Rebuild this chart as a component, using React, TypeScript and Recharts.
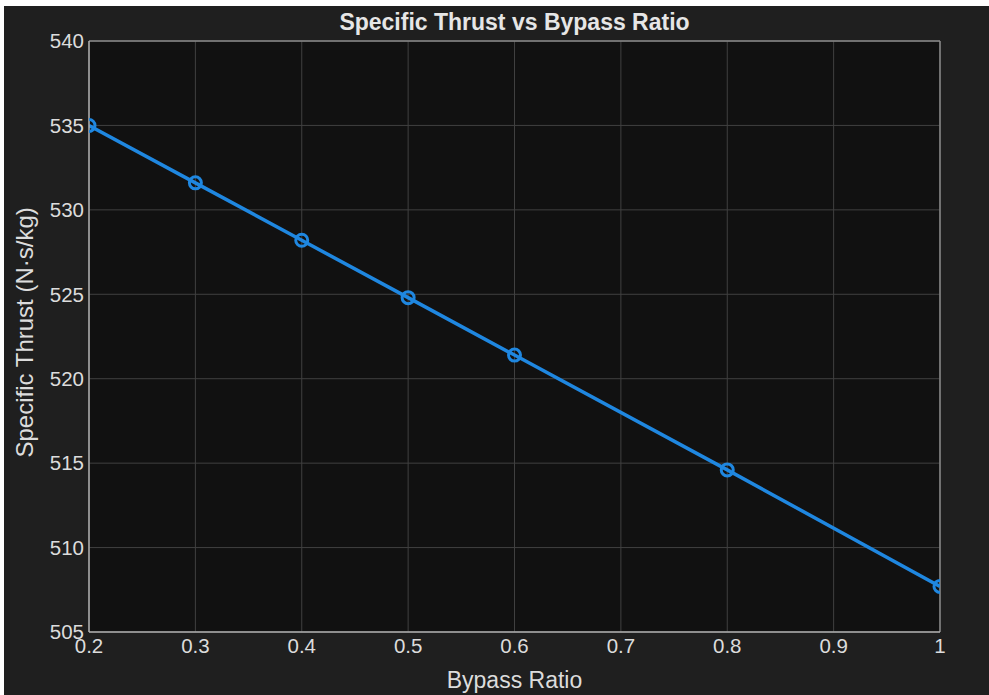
import React from 'react';
import { LineChart, Line, XAxis, YAxis, CartesianGrid, ReferenceLine } from 'recharts';

const bypassRatio = [0.2, 0.3, 0.4, 0.5, 0.6, 0.8, 1.0];
const specificThrust = [535.0, 531.6, 528.2, 524.8, 521.4, 514.6, 507.7];
const xTicks = [0.2, 0.3, 0.4, 0.5, 0.6, 0.7, 0.8, 0.9, 1];
const yTicks = [505, 510, 515, 520, 525, 530, 535, 540];

const data = bypassRatio.map((x, i) => ({ x, y: specificThrust[i] }));

const font = '"Liberation Sans", Arial, Helvetica, sans-serif';
const tickStyle = { fill: '#dcdcdc', fontSize: 20.5, fontFamily: font };

const App = () => {
    return (
        <div style={{ position: 'fixed', left: 0, top: 0, width: 989, height: 695, background: 'white' }}>
            <div style={{ position: 'absolute', left: 4, top: 6, width: 985, height: 689, background: '#1f1f1f' }}>
                <div
                    style={{
                        position: 'absolute', left: (85 + 936) / 2, top: 3, transform: 'translateX(-50%)', whiteSpace: 'nowrap',
                        color: '#e6e6e6', fontFamily: font, fontWeight: 'bold', fontSize: 23,
                    }}
                >
                    Specific Thrust vs Bypass Ratio
                </div>
                <LineChart
                    width={985}
                    height={689}
                    data={data}
                    margin={{ top: 35, right: 49, bottom: 33, left: 25 }}
                >
                    <CartesianGrid stroke="#404040" strokeWidth={1} fill="#111111" />
                    <XAxis
                        dataKey="x"
                        type="number"
                        domain={[0.2, 1]}
                        ticks={xTicks}
                        tickFormatter={(v) => String(Math.round(v * 10) / 10)}
                        height={30}
                        tickLine={false}
                        tickSize={5}
                        axisLine={{ stroke: '#b0b0b0', strokeWidth: 1.5 }}
                        tick={tickStyle}
                        tickMargin={1}
                        allowDataOverflow
                        label={{ value: 'Bypass Ratio', position: 'insideBottom', offset: -26, fill: '#dcdcdc', fontSize: 23, fontFamily: font }}
                    />
                    <YAxis
                        type="number"
                        domain={[505, 540]}
                        ticks={yTicks}
                        width={60}
                        tickLine={false}
                        tickSize={5}
                        axisLine={{ stroke: '#b0b0b0', strokeWidth: 1.5 }}
                        tick={tickStyle}
                        tickMargin={0}
                        allowDataOverflow
                        label={{ value: 'Specific Thrust (N·s/kg)', angle: -90, position: 'insideLeft', offset: -5, dy: 121, fill: '#dcdcdc', fontSize: 24, fontFamily: font }}
                    />
                    <ReferenceLine y={540} stroke="#8a8a8a" strokeWidth={1.5} />
                    <ReferenceLine x={1} stroke="#8a8a8a" strokeWidth={1.5} />
                    <Line
                        type="linear"
                        dataKey="y"
                        stroke="#1f87e0"
                        strokeWidth={3.5}
                        dot={{ r: 6, stroke: '#1f87e0', strokeWidth: 3, fill: 'none' }}
                        activeDot={false}
                        isAnimationActive={false}
                    />
                </LineChart>
            </div>
        </div>
    );
};

export default App;
